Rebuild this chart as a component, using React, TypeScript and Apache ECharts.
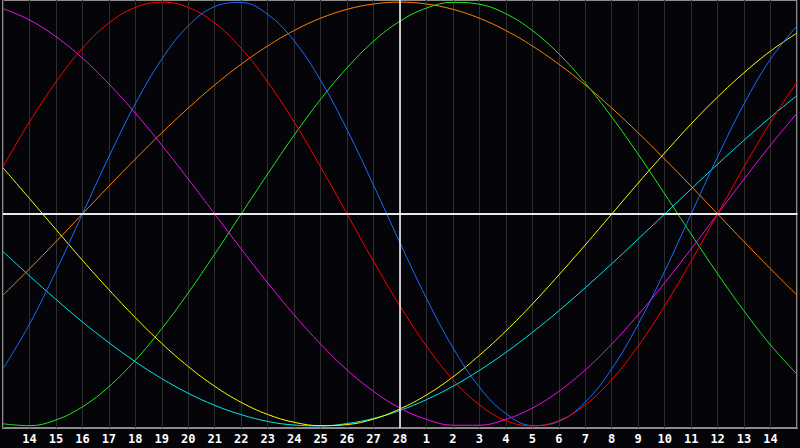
import React, { useEffect, useRef } from "react";
import * as echarts from "echarts";

const days = [
  "13", "14", "15", "16", "17", "18", "19", "20", "21", "22", "23", "24", "25", "26", "27", "28",
  "1", "2", "3", "4", "5", "6", "7", "8", "9", "10", "11", "12", "13", "14", "15",
];

const red = [0.223, 0.434, 0.623, 0.782, 0.901, 0.975, 1.0, 0.975, 0.901, 0.782, 0.623, 0.434, 0.223, 0.0, -0.223, -0.434, -0.623, -0.782, -0.901, -0.975, -1.0, -0.975, -0.901, -0.782, -0.623, -0.434, -0.223, 0.0, 0.223, 0.434, 0.623];
const blue = [-0.731, -0.52, -0.27, 0.0, 0.27, 0.52, 0.731, 0.888, 0.979, 0.998, 0.942, 0.817, 0.631, 0.398, 0.136, -0.136, -0.398, -0.631, -0.817, -0.942, -0.998, -0.979, -0.888, -0.731, -0.52, -0.27, 0.0, 0.27, 0.52, 0.731, 0.888];
const orange = [-0.383, -0.259, -0.131, 0.0, 0.131, 0.259, 0.383, 0.5, 0.609, 0.707, 0.793, 0.866, 0.924, 0.966, 0.991, 1.0, 0.991, 0.966, 0.924, 0.866, 0.793, 0.707, 0.609, 0.5, 0.383, 0.259, 0.131, 0.0, -0.131, -0.259, -0.383];
const green = [-0.99, -0.999, -0.972, -0.91, -0.815, -0.69, -0.541, -0.372, -0.189, 0.0, 0.189, 0.372, 0.541, 0.69, 0.815, 0.91, 0.972, 0.999, 0.99, 0.945, 0.866, 0.756, 0.618, 0.458, 0.282, 0.095, -0.095, -0.282, -0.458, -0.618, -0.756];
const magenta = [0.969, 0.916, 0.837, 0.736, 0.614, 0.476, 0.325, 0.165, 0.0, -0.165, -0.325, -0.476, -0.614, -0.736, -0.837, -0.916, -0.969, -0.997, -0.997, -0.969, -0.916, -0.837, -0.736, -0.614, -0.476, -0.325, -0.165, 0.0, 0.165, 0.325, 0.476];
const yellow = [0.218, 0.073, -0.073, -0.218, -0.357, -0.489, -0.611, -0.72, -0.813, -0.889, -0.946, -0.983, -0.999, -0.994, -0.968, -0.92, -0.854, -0.769, -0.667, -0.552, -0.425, -0.288, -0.146, 0.0, 0.146, 0.288, 0.425, 0.552, 0.667, 0.769, 0.854];
const cyan = [-0.177, -0.292, -0.403, -0.509, -0.607, -0.697, -0.777, -0.846, -0.903, -0.947, -0.979, -0.996, -1.0, -0.989, -0.965, -0.927, -0.876, -0.813, -0.738, -0.653, -0.559, -0.457, -0.348, -0.235, -0.118, 0.0, 0.118, 0.235, 0.348, 0.457, 0.559];

const seriesList = [
  { name: "orange", data: orange, color: "#ff8000" },
  { name: "green", data: green, color: "#20e820" },
  { name: "cyan", data: cyan, color: "#00e8e8" },
  { name: "yellow", data: yellow, color: "#ffff00" },
  { name: "magenta", data: magenta, color: "#f010f0" },
  { name: "blue", data: blue, color: "#1a6cff" },
  { name: "red", data: red, color: "#ff0000" },
];

export default function App() {
  const ref = useRef<HTMLDivElement>(null);
  useEffect(() => {
    document.body.style.margin = "0";
    document.body.style.background = "#050408";
    const chart = echarts.init(ref.current!, null, { renderer: "svg" });
    chart.setOption({
      animation: false,
      backgroundColor: "#050408",
      grid: {
        left: 0,
        right: 0,
        top: 0,
        bottom: 20,
        show: true,
        borderColor: "#8c8c8c",
        borderWidth: 2,
        backgroundColor: "transparent",
      },
      xAxis: {
        type: "category",
        data: days,
        boundaryGap: false,
        axisLine: { show: true, lineStyle: { color: "#a8a8a8", width: 2 } },
        axisTick: { show: false },
        splitLine: { show: true, interval: 0, lineStyle: { color: "#2e2e2e", width: 1 } },
        axisLabel: {
          interval: 0,
          color: "#ffffff",
          fontWeight: "bold",
          fontFamily: "DejaVu Sans Mono",
          fontSize: 12,
          margin: 5,
          formatter: (v: string, i: number) => (i === 0 || i === days.length - 1 ? "" : v),
        },
      },
      yAxis: {
        type: "value",
        min: -1.01,
        max: 1.01,
        show: false,
        splitLine: { show: false },
      },
      series: [
        {
          name: "axes",
          type: "line",
          data: [],
          silent: true,
          markLine: {
            silent: true,
            symbol: "none",
            label: { show: false },
            lineStyle: { color: "#ffffff", width: 1.5, type: "solid" },
            data: [{ xAxis: "28" }, { yAxis: 0 }],
          },
        },
        ...seriesList.map((s) => ({
          name: s.name,
          type: "line",
          data: s.data,
          smooth: 0.4,
          showSymbol: false,
          symbol: "none",
          lineStyle: { color: s.color, width: 1 },
          itemStyle: { color: s.color },
          silent: true,
        })),
      ],
    });
    return () => chart.dispose();
  }, []);
  return <div ref={ref} style={{ width: 800, height: 448 }} />;
}
